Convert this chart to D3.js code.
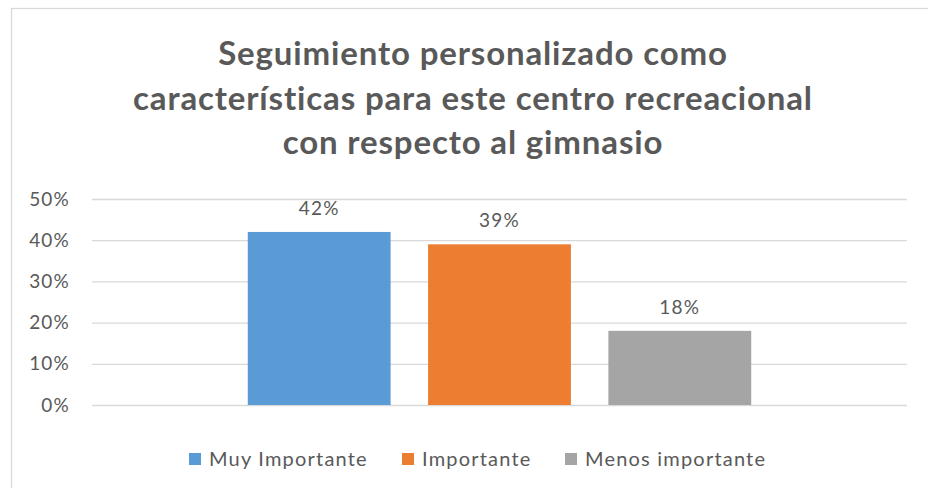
<!DOCTYPE html>
<html>
<head>
<meta charset="utf-8">
<script src="https://cdn.jsdelivr.net/npm/d3@7"></script>
<style>
  html, body { margin: 0; padding: 0; background: #fff; }
  svg { display: block; }
</style>
</head>
<body>
<svg id="chart" width="928" height="488"></svg>
<script>
const titleLines = ["Seguimiento personalizado como", "características para este centro recreacional", "con respecto al gimnasio"];
const categories = ["Muy Importante", "Importante", "Menos importante"];
const values = [0.42, 0.39, 0.18];
const yTicks = [0, 0.1, 0.2, 0.3, 0.4, 0.5];
const colors = ["#5B9BD5", "#ED7D31", "#A5A5A5"];

const svg = d3.select("#chart");
const textColor = "#595959";
const font = "Lato, 'Open Sans', sans-serif";

// chart frame
svg.append("rect")
  .attr("x", 11.5).attr("y", 8.5)
  .attr("width", 940).attr("height", 500)
  .attr("fill", "#fff").attr("stroke", "#D9D9D9").attr("stroke-width", 1.3);

// title
const title = svg.append("text")
  .attr("text-anchor", "middle")
  .attr("font-family", font).attr("font-weight", "bold")
  .attr("font-size", 33).attr("letter-spacing", 0.85).attr("fill", textColor);
titleLines.forEach((t, i) => {
  title.append("tspan").attr("x", 473).attr("y", 65 + i * 44.5).text(t);
});

const plot = { left: 92, right: 907, top: 199, bottom: 405 };

const y = d3.scaleLinear().domain([0, 0.5]).range([plot.bottom, plot.top]);
const x = d3.scaleBand().domain(categories)
  .range([plot.left, plot.right])
  .paddingInner(0.2078).paddingOuter(0.864);

// gridlines
svg.append("g")
  .attr("transform", `translate(${plot.left},0)`)
  .call(d3.axisLeft(y).tickValues(yTicks).tickSize(-(plot.right - plot.left)).tickFormat(""))
  .call(g => g.select(".domain").remove())
  .call(g => g.selectAll("line").attr("stroke", "#D9D9D9").attr("stroke-width", 1.3));

// y axis labels
svg.append("g")
  .attr("transform", `translate(${plot.left},0)`)
  .call(d3.axisLeft(y).tickValues(yTicks).tickSize(0).tickPadding(22).tickFormat(d3.format(".0%")))
  .call(g => g.select(".domain").remove())
  .call(g => g.selectAll("text").attr("font-family", font).attr("font-size", 19)
    .attr("letter-spacing", 1.2).attr("fill", textColor));

// bars
svg.append("g").selectAll("rect")
  .data(values)
  .join("rect")
  .attr("x", (d, i) => x(categories[i]))
  .attr("y", d => y(d))
  .attr("width", x.bandwidth())
  .attr("height", d => y(0) - y(d))
  .attr("fill", (d, i) => colors[i]);

// data labels
svg.append("g").selectAll("text")
  .data(values)
  .join("text")
  .attr("x", (d, i) => x(categories[i]) + x.bandwidth() / 2)
  .attr("y", d => y(d) - 17)
  .attr("text-anchor", "middle")
  .attr("font-family", font).attr("font-size", 19).attr("letter-spacing", 1.2)
  .attr("fill", textColor)
  .text(d => d3.format(".0%")(d));

// legend
const legendX = [189, 402, 565];
const legend = svg.append("g").selectAll("g")
  .data(categories)
  .join("g")
  .attr("transform", (d, i) => `translate(${legendX[i]},453)`);
legend.append("rect").attr("width", 12).attr("height", 12).attr("fill", (d, i) => colors[i]);
legend.append("text")
  .attr("x", 20).attr("y", 13)
  .attr("font-family", font).attr("font-size", 20).attr("letter-spacing", 1.2)
  .attr("fill", textColor)
  .text(d => d);
</script>
</body>
</html>
